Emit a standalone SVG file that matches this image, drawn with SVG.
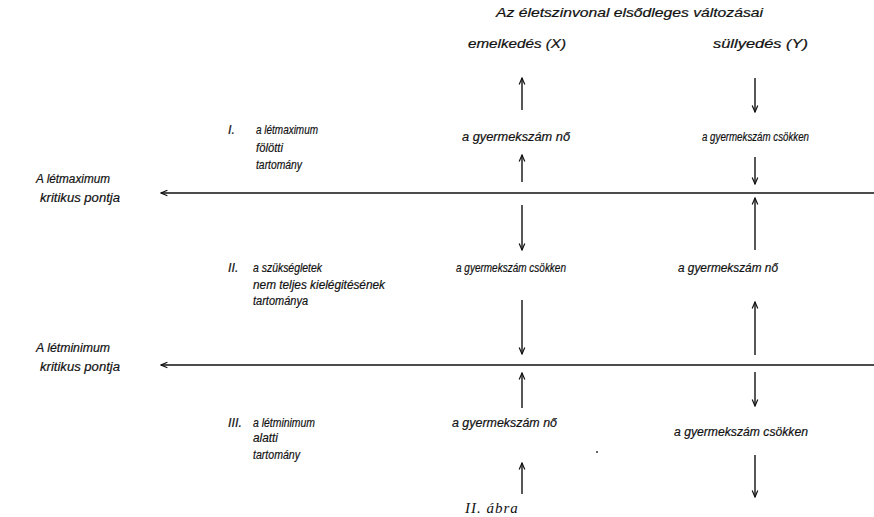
<svg xmlns="http://www.w3.org/2000/svg" width="874" height="517" viewBox="0 0 874 517">
<style>
.t{font-family:"Liberation Sans","DejaVu Sans",sans-serif;font-style:italic;font-size:12.5px;fill:#111;stroke:#111;stroke-width:0.2}
.cap{font-family:"Liberation Serif","DejaVu Serif",serif;font-style:italic;font-size:15px;fill:#111;letter-spacing:1px}
.ar{stroke:#111;stroke-width:1.4;fill:none;marker-end:url(#ah)}
.hl{stroke:#111;stroke-width:1.6;fill:none;marker-end:url(#ah)}
</style>
<defs>
<marker id="ah" viewBox="0 0 10 10" refX="9" refY="5" markerWidth="8" markerHeight="8" markerUnits="userSpaceOnUse" orient="auto">
<path d="M1,1.5 L9,5 L1,8.5" fill="none" stroke="#111" stroke-width="1.5"/>
</marker>
</defs>
<rect width="874" height="517" fill="#fff"/>

<g id="header">
<text class="t" x="496" y="17" textLength="267" lengthAdjust="spacingAndGlyphs">Az életszinvonal elsődleges változásai</text>
<text class="t" x="468" y="48" textLength="98" lengthAdjust="spacingAndGlyphs">emelkedés (X)</text>
<text class="t" x="713" y="48" textLength="95" lengthAdjust="spacingAndGlyphs">süllyedés (Y)</text>
</g>

<g id="crit-max">
<text class="t" x="36" y="183" textLength="74" lengthAdjust="spacingAndGlyphs">A  létmaximum</text>
<text class="t" x="40" y="202" textLength="80" lengthAdjust="spacingAndGlyphs">kritikus pontja</text>
</g>
<g id="crit-min">
<text class="t" x="36" y="352" textLength="74" lengthAdjust="spacingAndGlyphs">A  létminimum</text>
<text class="t" x="40" y="371" textLength="80" lengthAdjust="spacingAndGlyphs">kritikus pontja</text>
</g>

<g id="region-I">
<text class="t" x="228" y="134">I.</text>
<text class="t" x="256" y="134" textLength="62" lengthAdjust="spacingAndGlyphs">a létmaximum</text>
<text class="t" x="256" y="152" textLength="27" lengthAdjust="spacingAndGlyphs">fölötti</text>
<text class="t" x="256" y="169" textLength="46" lengthAdjust="spacingAndGlyphs">tartomány</text>
</g>
<g id="region-II">
<text class="t" x="228" y="272">II.</text>
<text class="t" x="253" y="272" textLength="69" lengthAdjust="spacingAndGlyphs">a szükségletek</text>
<text class="t" x="253" y="289" textLength="132" lengthAdjust="spacingAndGlyphs">nem teljes kielégitésének</text>
<text class="t" x="253" y="305" textLength="55" lengthAdjust="spacingAndGlyphs">tartománya</text>
</g>
<g id="region-III">
<text class="t" x="228" y="427">III.</text>
<text class="t" x="253" y="427" textLength="62" lengthAdjust="spacingAndGlyphs">a létminimum</text>
<text class="t" x="253" y="442" textLength="25" lengthAdjust="spacingAndGlyphs">alatti</text>
<text class="t" x="253" y="459" textLength="47" lengthAdjust="spacingAndGlyphs">tartomány</text>
</g>

<g id="x-I"><text class="t" x="462" y="141" textLength="108" lengthAdjust="spacingAndGlyphs">a gyermekszám nő</text></g>
<g id="y-I"><text class="t" x="702" y="141" textLength="107" lengthAdjust="spacingAndGlyphs">a gyermekszám csökken</text></g>
<g id="x-II"><text class="t" x="456" y="272" textLength="110" lengthAdjust="spacingAndGlyphs">a gyermekszám csökken</text></g>
<g id="y-II"><text class="t" x="678" y="272" textLength="100" lengthAdjust="spacingAndGlyphs">a gyermekszám nő</text></g>
<g id="x-III"><text class="t" x="452" y="427" textLength="105" lengthAdjust="spacingAndGlyphs">a gyermekszám nő</text></g>
<g id="y-III"><text class="t" x="674" y="436" textLength="134" lengthAdjust="spacingAndGlyphs">a gyermekszám csökken</text></g>

<g id="connectors">
<line class="hl" x1="874" y1="193" x2="161" y2="193"/>
<line class="hl" x1="874" y1="365" x2="161" y2="365"/>
<line class="ar" x1="522" y1="110" x2="522" y2="78"/>
<line class="ar" x1="755" y1="78" x2="755" y2="112"/>
<line class="ar" x1="522" y1="182" x2="522" y2="155"/>
<line class="ar" x1="755" y1="157" x2="755" y2="184"/>
<line class="ar" x1="522" y1="205" x2="522" y2="250"/>
<line class="ar" x1="755" y1="250" x2="755" y2="198"/>
<line class="ar" x1="522" y1="300" x2="522" y2="354"/>
<line class="ar" x1="755" y1="355" x2="755" y2="302"/>
<line class="ar" x1="522" y1="408" x2="522" y2="373"/>
<line class="ar" x1="755" y1="372" x2="755" y2="406"/>
<line class="ar" x1="522" y1="494" x2="522" y2="463"/>
<line class="ar" x1="755" y1="455" x2="755" y2="497"/>
</g>

<circle cx="597" cy="452" r="1" fill="#333"/>
<text class="cap" x="465" y="513">II. ábra</text>
</svg>
